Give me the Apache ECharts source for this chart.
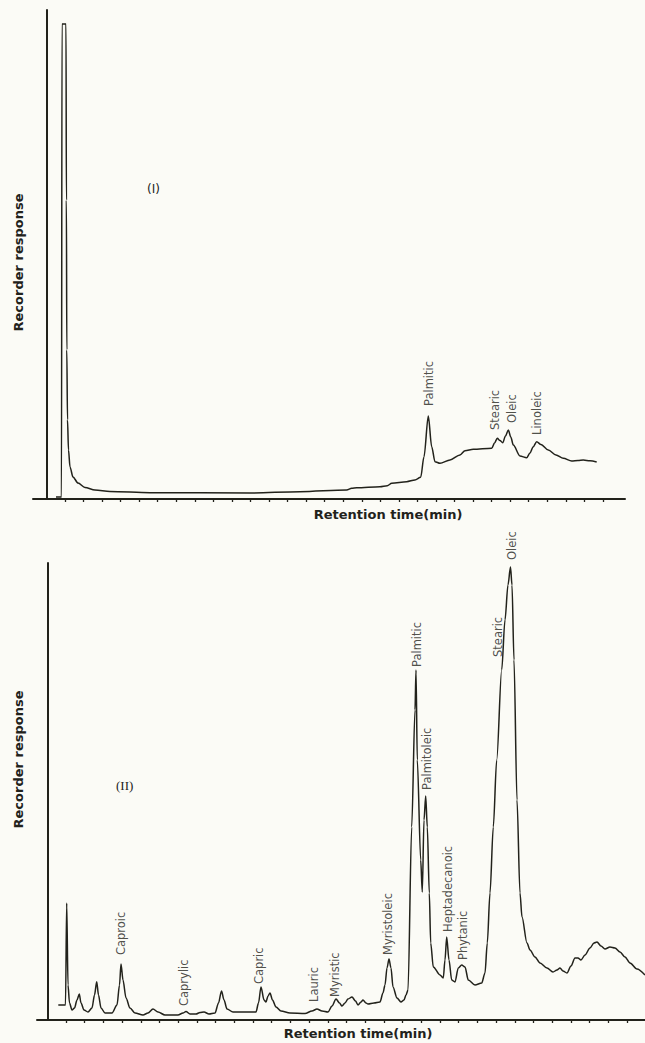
<!DOCTYPE html>
<html>
<head>
<meta charset="utf-8">
<script src="https://cdn.jsdelivr.net/npm/echarts@6/dist/echarts.min.js"></script>
<style>
html,body{margin:0;padding:0;background:#fbfbf6;}
#chart{width:645px;height:1043px;}
</style>
</head>
<body>
<div id="chart"></div>
<script>
// ---------- Chromatogram (I) ----------
const timeI = [0.515,0.811,0.838,1.054,1.075,1.097,1.135,1.189,1.270,1.431,
  1.701,2.078,2.617,3.426,5.582,10.973,13.668,16.186,16.456,16.725,
  17.981,18.375,18.612,19.420,19.868,20.175,20.353,20.585,20.768,20.946,
  21.216,21.755,22.294,22.563,23.011,24.003,24.154,24.305,24.450,24.596,
  24.747,24.898,25.033,25.167,25.528,25.889,26.067,26.245,26.429,26.660,
  27.054,27.469,27.863,28.315,28.655,28.941,29.302,29.663];
const respI = [0.41,0.41,97.14,97.14,61.1,30.5,16.2,10.0,6.54,4.50,
  3.27,2.35,1.84,1.53,1.29,1.23,1.49,1.84,2.19,2.31,
  2.52,2.72,3.21,3.54,3.89,4.44,8.65,16.97,10.70,7.63,
  7.30,7.98,9.00,9.88,10.16,10.37,11.45,12.41,11.96,11.51,
  12.88,14.11,12.68,11.04,8.79,8.45,9.41,10.70,11.72,11.15,
  10.02,9.00,8.32,7.77,7.87,7.98,7.81,7.57];
const peakNamesI = ['Palmitic','Stearic','Oleic','Linoleic'];
const labelTimeI = [20.623,24.181,25.097,26.445];
const labelRespI = [19.02,14.11,15.54,13.09];
const ticksI = [1,2,3,4,5,6,7,8,9,10,11,12,13,14,15,16,17,18,19,20,21,22,23,24,25,26,27,28,29,30];

// ---------- Chromatogram (II) ----------
const timeII = [0.588,0.973,1.037,1.107,1.187,1.321,1.455,1.588,1.711,1.802,
  1.963,2.176,2.390,2.524,2.642,2.738,2.872,3.086,3.460,3.727,
  3.861,3.941,4.048,4.209,4.422,4.690,5.118,5.385,5.652,5.920,
  6.294,6.989,7.257,7.417,7.631,7.952,8.166,8.380,8.647,8.968,
  9.155,9.316,9.449,9.610,9.930,11.160,11.294,11.428,11.588,11.695,
  11.802,11.909,12.043,12.230,12.497,12.979,13.781,14.155,14.422,14.690,
  15.011,15.225,15.439,15.626,15.759,15.920,16.080,16.294,16.481,16.615,
  16.775,16.882,17.043,17.150,17.471,17.791,17.952,18.059,18.166,18.273,
  18.380,18.487,18.701,18.914,19.075,19.182,19.289,19.487,19.663,19.717,
  19.786,19.968,20.053,20.144,20.235,20.321,20.428,20.503,20.642,21.000,
  21.176,21.267,21.358,21.481,21.626,21.802,21.979,22.160,22.337,22.513,
  22.872,23.230,23.406,23.529,23.674,23.850,24.032,24.299,24.476,24.636,
  24.770,24.850,24.957,25.118,25.278,25.385,25.652,25.813,26.080,26.348,
  26.722,27.043,27.257,27.417,27.578,27.791,28.005,28.219,28.380,28.540,
  28.754,29.021,29.235,29.396,29.610,29.824,30.091,30.358,30.626,30.893,
  31.160,31.535,31.963];
const respII = [3.28,3.28,25.60,7.66,3.72,2.19,2.63,4.38,5.69,3.72,
  2.19,1.75,2.63,5.47,8.38,5.47,2.63,1.53,1.53,3.28,
  7.66,12.25,8.75,4.81,2.63,1.53,1.09,1.53,2.41,1.75,
  1.09,1.09,1.53,1.86,1.31,1.31,1.64,1.75,1.31,1.53,
  3.72,6.35,4.38,2.41,1.75,1.75,3.72,7.22,4.38,3.94,
  5.25,5.91,4.38,2.84,1.97,1.53,1.42,1.97,2.41,1.97,
  1.75,3.06,4.60,3.72,3.06,3.72,4.60,5.03,4.16,3.28,
  3.94,4.38,3.72,3.50,3.72,3.94,5.91,7.66,11.38,13.35,
  11.38,7.22,4.81,3.94,4.38,5.47,6.56,42.23,67.83,76.59,
  56.89,35.01,28.01,43.76,49.02,42.23,27.79,16.85,11.60,9.85,
  9.19,13.13,18.16,13.13,8.75,8.32,11.38,12.04,11.60,8.75,
  7.66,8.10,10.28,16.85,27.79,42.23,56.89,76.59,87.53,95.19,
  99.13,95.19,78.77,48.14,27.79,22.54,16.85,15.32,13.79,12.47,
  11.38,10.50,10.94,11.38,10.72,10.28,11.82,13.57,13.57,13.13,
  14.22,15.75,16.85,17.07,16.19,15.53,15.97,15.75,14.88,13.79,
  12.47,11.16,9.85];
const peakNamesII = ['Caproic','Caprylic','Capric','Lauric','Myristic','Myristoleic',
  'Palmitic','Palmitoleic','Heptadecanoic','Phytanic','Stearic','Oleic'];
const labelTimeII = [3.941,7.310,11.321,14.262,15.385,18.219,19.770,20.305,21.428,22.230,24.102,24.850];
const labelRespII = [14.22,3.06,7.88,3.94,5.03,14.22,77.24,50.33,19.26,13.13,79.43,100.66];
const ticksII = [1,2,3,4,5,6,7,8,9,10,11,12,13,14,15,16,17,18,19,20,21,22,23,24,25,26,27,28,29,30,31];

const axisTitleX = 'Retention time(min)';
const axisTitleY = 'Recorder response';
const panelI = '(I)';
const panelII = '(II)';

// ---------- styling ----------
const ink = '#22221b';
const font = 'DejaVu Sans';

function xAxisCfg(gridIndex, min, max, ticks, gap, pad) {
  return {
    type: 'value', gridIndex, min, max,
    axisLine: { show: true, onZero: false, lineStyle: { color: ink, width: 2 } },
    axisTick: { show: true, inside: false, length: 3, customValues: ticks,
                lineStyle: { color: ink, width: 1.3 } },
    axisLabel: { show: false },
    splitLine: { show: false },
    name: axisTitleX, nameLocation: 'middle', nameGap: gap,
    nameTextStyle: { color: ink, fontFamily: font, fontSize: 13, fontWeight: 'bold', padding: pad }
  };
}
function yAxisCfg(gridIndex, gap, pad) {
  return {
    type: 'value', gridIndex, min: 0, max: 100,
    axisLine: { show: true, lineStyle: { color: ink, width: 2 } },
    axisTick: { show: false }, axisLabel: { show: false }, splitLine: { show: false },
    name: axisTitleY, nameLocation: 'middle', nameRotate: 90, nameGap: gap,
    nameTextStyle: { color: ink, fontFamily: font, fontSize: 13, fontWeight: 'bold', padding: pad }
  };
}
function labelSeries(idx, names, times, resps) {
  return {
    type: 'scatter', xAxisIndex: idx, yAxisIndex: idx, symbolSize: 0, clip: false,
    silent: true, z: 5,
    data: names.map((n, i) => ({ name: n, value: [times[i], resps[i]] })),
    label: {
      show: true, formatter: p => p.name, position: 'top', distance: 0,
      rotate: 90, align: 'left', verticalAlign: 'middle',
      color: ink, fontFamily: font, fontSize: 11.5
    }
  };
}
function lineSeries(idx, times, resps) {
  return {
    type: 'line', xAxisIndex: idx, yAxisIndex: idx, showSymbol: false, symbol: 'none',
    smooth: 0.3, smoothMonotone: 'x', clip: false, silent: true,
    lineStyle: { color: ink, width: 1.5 },
    data: times.map((t, i) => [t, resps[i]])
  };
}

const chart = echarts.init(document.getElementById('chart'), null, { renderer: 'svg' });
chart.setOption({
  backgroundColor: '#fbfbf6',
  animation: false,
  grid: [
    { left: 33, top: 10, width: 592, height: 489 },
    { left: 37, top: 563, width: 608, height: 457 }
  ],
  xAxis: [
    xAxisCfg(0, -0.725, 31.189, ticksI, 9, [0, 0, 0, 118]),
    xAxisCfg(1, -0.551, 31.963, ticksII, 7, [0, 0, 0, 34])
  ],
  yAxis: [
    yAxisCfg(0, 8, [0, 16, 0, 0]),
    yAxisCfg(1, 12, [0, 0, 0, 64])
  ],
  graphic: [
    { type: 'text', left: 147, top: 183,
      style: { text: panelI, fill: ink, fontFamily: font, fontSize: 12 } },
    { type: 'text', left: 116, top: 779,
      style: { text: panelII, fill: ink, fontFamily: 'Liberation Serif', fontSize: 13 } }
  ],
  series: [
    lineSeries(0, timeI, respI),
    lineSeries(1, timeII, respII),
    labelSeries(0, peakNamesI, labelTimeI, labelRespI),
    labelSeries(1, peakNamesII, labelTimeII, labelRespII)
  ]
});
</script>
</body>
</html>
